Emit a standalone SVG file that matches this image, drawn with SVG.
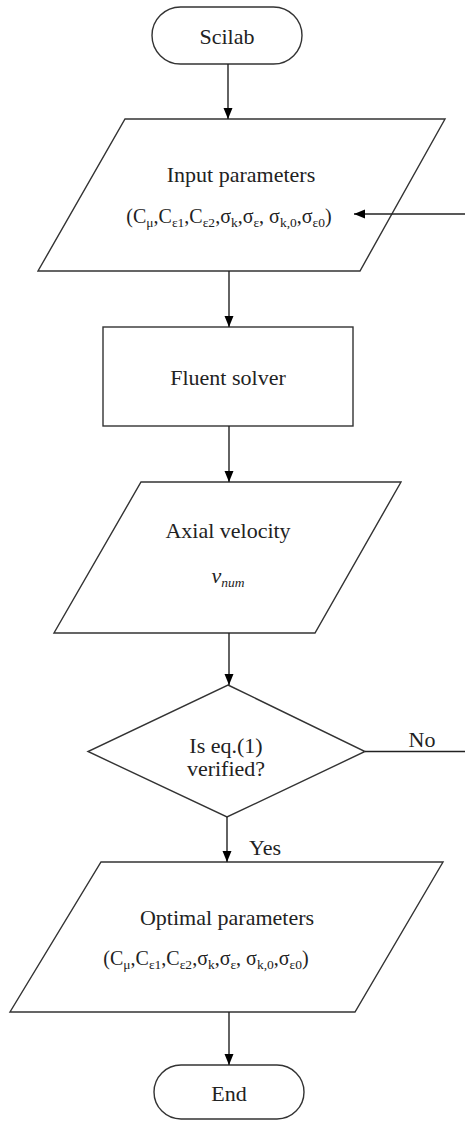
<svg xmlns="http://www.w3.org/2000/svg" width="465" height="1121" viewBox="0 0 465 1121">
<style>
.shape{fill:#fff;stroke:#333;stroke-width:1.4}
.conn{stroke:#222;stroke-width:1.4;fill:none}
text{font-family:"Liberation Serif","Times New Roman","DejaVu Serif",serif;fill:#222;text-anchor:middle}
.t{font-size:22px}
.p{font-size:20px}
.s{font-size:13.5px}
</style>
<defs>
<marker id="ah" markerUnits="userSpaceOnUse" markerWidth="12" markerHeight="12" viewBox="0 0 12 12" refX="11" refY="6" orient="auto">
<path d="M0,1.5 L11,6 L0,10.5 Z" fill="#000"/>
</marker>
</defs>
<rect width="465" height="1121" fill="#fff"/>
<g id="scilab">
<rect class="shape" x="152" y="7" width="150" height="57" rx="28.5"/>
<text class="t" x="227" y="44">Scilab</text>
</g>
<g id="input">
<polygon class="shape" points="125,119 445,119 360,271 38,271"/>
<text class="t" x="241" y="182">Input parameters</text>
<text class="p" x="229" y="223">(C<tspan class="s" dy="4">μ</tspan><tspan dy="-4">,C</tspan><tspan class="s" dy="4">ε1</tspan><tspan dy="-4">,C</tspan><tspan class="s" dy="4">ε2</tspan><tspan dy="-4">,σ</tspan><tspan class="s" dy="4">k</tspan><tspan dy="-4">,σ</tspan><tspan class="s" dy="4">ε</tspan><tspan dy="-4">, σ</tspan><tspan class="s" dy="4">k,0</tspan><tspan dy="-4">,σ</tspan><tspan class="s" dy="4">ε0</tspan><tspan dy="-4">)</tspan></text>
</g>
<g id="fluent">
<rect class="shape" x="103" y="327" width="250" height="99"/>
<text class="t" x="228" y="385">Fluent solver</text>
</g>
<g id="axial">
<polygon class="shape" points="141,482 401,482 315,633 54,633"/>
<text class="t" x="228" y="538">Axial velocity</text>
<text class="t" x="228" y="583" font-style="italic">v<tspan class="s" dy="4">num</tspan></text>
</g>
<g id="decision">
<polygon class="shape" points="228,685 365,751.5 227,817 88,751.5"/>
<text class="t" x="226" y="753">Is eq.(1)</text>
<text class="t" x="226" y="776">verified?</text>
</g>
<g id="optimal">
<polygon class="shape" points="101,862 443,862 355,1012 10,1012"/>
<text class="t" x="227" y="925">Optimal parameters</text>
<text class="p" x="206" y="965">(C<tspan class="s" dy="4">μ</tspan><tspan dy="-4">,C</tspan><tspan class="s" dy="4">ε1</tspan><tspan dy="-4">,C</tspan><tspan class="s" dy="4">ε2</tspan><tspan dy="-4">,σ</tspan><tspan class="s" dy="4">k</tspan><tspan dy="-4">,σ</tspan><tspan class="s" dy="4">ε</tspan><tspan dy="-4">, σ</tspan><tspan class="s" dy="4">k,0</tspan><tspan dy="-4">,σ</tspan><tspan class="s" dy="4">ε0</tspan><tspan dy="-4">)</tspan></text>
</g>
<g id="end">
<rect class="shape" x="154" y="1065" width="150" height="54" rx="27"/>
<text class="t" x="229" y="1101">End</text>
</g>
<g id="connectors">
<line class="conn" x1="228" y1="64" x2="228" y2="119" marker-end="url(#ah)"/>
<line class="conn" x1="229" y1="271" x2="229" y2="327" marker-end="url(#ah)"/>
<line class="conn" x1="229" y1="426" x2="229" y2="482" marker-end="url(#ah)"/>
<line class="conn" x1="229" y1="633" x2="229" y2="685" marker-end="url(#ah)"/>
<line class="conn" x1="227" y1="817" x2="227" y2="862" marker-end="url(#ah)"/>
<line class="conn" x1="229" y1="1012" x2="229" y2="1065" marker-end="url(#ah)"/>
<line class="conn" x1="465" y1="214" x2="354" y2="214" marker-end="url(#ah)"/>
<line class="conn" x1="365" y1="751.5" x2="465" y2="751.5"/>
<text class="t" x="422" y="747">No</text>
<text class="t" x="265" y="855">Yes</text>
</g>
</svg>
